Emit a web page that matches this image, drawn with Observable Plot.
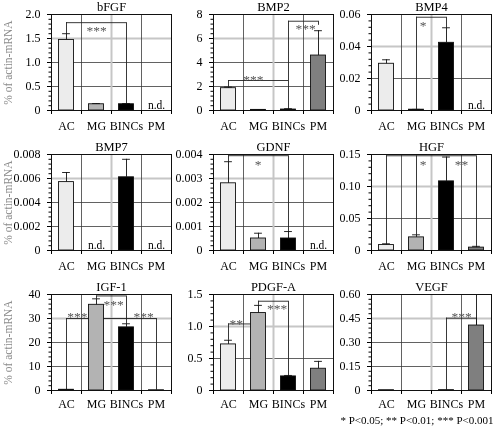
<!DOCTYPE html>
<html>
<head>
<meta charset="utf-8">
<script src="https://cdn.jsdelivr.net/npm/d3@7"></script>
<script src="https://cdn.jsdelivr.net/npm/@observablehq/plot@0.6"></script>
<style>
  html, body { margin: 0; padding: 0; background: #fff; }
  #chart { position: relative; width: 493px; height: 426px; overflow: hidden; background: #fff; }
  #chart > div { position: absolute; }
  #chart svg { filter: grayscale(1); }
  #chart svg, #chart svg text { font-family: "Liberation Serif", "DejaVu Serif", serif !important; }
</style>
</head>
<body>
<div id="chart"></div>
<script>
const categories = ["AC", "MG", "BINCs", "PM"];
const genes = ["bFGF", "BMP2", "BMP4", "BMP7", "GDNF", "HGF", "IGF-1", "PDGF-A", "VEGF"];
const barFills = ["#ececec", "#b3b3b3", "#000000", "#7f7f7f"];

// mean expression (% of actin-mRNA); null = n.d.
const means = [
  [1.47, 0.13, 0.13, null],
  [1.86, 0.05, 0.08, 4.58],
  [0.0292, 0.0005, 0.0423, null],
  [0.0057, null, 0.0061, null],
  [0.0028, 0.0005, 0.0005, null],
  [0.0085, 0.0205, 0.108, 0.0045],
  [0.3, 35.7, 26.3, 0.1],
  [0.72, 1.21, 0.22, 0.34],
  [0.002, 0, 0.002, 0.406]
];
// top of the error bar (mean + SD)
const errorTops = [
  [1.60, 0.145, 0.145, null],
  [1.95, 0.07, 0.15, 6.65],
  [0.0317, 0.0007, 0.0517, null],
  [0.0065, null, 0.0076, null],
  [0.0037, 0.00072, 0.00079, null],
  [0.0105, 0.0245, 0.146, 0.0065],
  [null, 38.2, 27.8, null],
  [0.785, 1.33, 0.235, 0.455],
  [null, null, null, 0.60]
];
const yTicks = [
  [0, 0.5, 1, 1.5, 2],
  [0, 2, 4, 6, 8],
  [0, 0.02, 0.04, 0.06],
  [0, 0.002, 0.004, 0.006, 0.008],
  [0, 0.001, 0.002, 0.003, 0.004],
  [0, 0.05, 0.10, 0.15],
  [0, 10, 20, 30, 40],
  [0, 0.5, 1, 1.5],
  [0, 0.15, 0.30, 0.45, 0.60]
];
const yTickLabels = [
  ["0", "0.5", "1.0", "1.5", "2.0"],
  ["0", "2", "4", "6", "8"],
  ["0", "0.02", "0.04", "0.06"],
  ["0", "0.002", "0.004", "0.006", "0.008"],
  ["0", "0.001", "0.002", "0.003", "0.004"],
  ["0", "0.05", "0.10", "0.15"],
  ["0", "10", "20", "30", "40"],
  ["0", "0.5", "1.0", "1.5"],
  ["0", "0.15", "0.30", "0.45", "0.60"]
];
// significance brackets: category index from/to, level, legs [category, bottom]
const brackets = [
  {panel: 0, from: 0, to: 2, y: 1.83, legs: [[0, 1.60], [2, 0.145]]},
  {panel: 1, from: 0, to: 2, y: 2.5, legs: [[0, 1.95], [2, 0.15]]},
  {panel: 1, from: 2, to: 3, y: 7.44, legs: [[2, 2.5], [3, 7.1]]},
  {panel: 2, from: 1, to: 2, y: 0.0583, legs: [[1, 0.0007], [2, 0.0517]]},
  {panel: 4, from: 0, to: 2, y: 0.00395, legs: [[0, 0.0037], [2, 0.00079]]},
  {panel: 5, from: 0, to: 3, y: 0.148, legs: [[0, 0.0105], [1, 0.0245], [3, 0.0065]]},
  {panel: 6, from: 1, to: 2, y: 39.4, legs: [[1, 38.2], [2, 27.8]]},
  {panel: 6, from: 0, to: 3, y: 30, legs: [[0, 0.3], [3, 0.1]]},
  {panel: 7, from: 0, to: 1, y: 1.04, legs: [[0, 0.785]]},
  {panel: 7, from: 1, to: 2, y: 1.395, legs: [[1, 1.33], [2, 0.235]]},
  {panel: 8, from: 2, to: 3, y: 0.452, legs: [[2, 0.002], [3, 0.406]]}
];
const stars = [
  {panel: 0, text: "***", at: 1.0, y: 1.73},
  {panel: 1, text: "***", at: 0.83, y: 2.86},
  {panel: 1, text: "***", at: 2.57, y: 7.08},
  {panel: 2, text: "*", at: 1.22, y: 0.0552},
  {panel: 4, text: "*", at: 0.99, y: 0.00372},
  {panel: 5, text: "*", at: 1.22, y: 0.1395},
  {panel: 5, text: "**", at: 2.5, y: 0.1395},
  {panel: 6, text: "***", at: 1.57, y: 37.2},
  {panel: 6, text: "***", at: 0.36, y: 32.1},
  {panel: 6, text: "***", at: 2.57, y: 32.1},
  {panel: 7, text: "**", at: 0.26, y: 1.09},
  {panel: 7, text: "***", at: 1.62, y: 1.33},
  {panel: 8, text: "***", at: 2.5, y: 0.48}
];
const yAxisTitle = "% of actin-mRNA";
const legendText = "* P<0.05; ** P<0.01; *** P<0.001";

const FONT = "'Liberation Serif', 'DejaVu Serif', serif";
const colPlotX = [51, 213, 371];
const rowPlotY = [14, 154, 294];
const plotW = 120, plotH = 96;

function makePanel(p) {
  const row = Math.floor(p / 3), col = p % 3;
  const ml = col === 0 ? 51 : 45, mr = 2, mt = 14, mb = row === 2 ? 36 : 26;
  const ticks = yTicks[p], labels = yTickLabels[p];
  const yMax = ticks[ticks.length - 1];
  const bars = categories.map((c, k) => ({k, c, mean: means[p][k], top: errorTops[p][k], fill: barFills[k]}));
  const shown = bars.filter(d => d.mean != null);
  const nd = bars.filter(d => d.mean == null);
  const errs = shown.filter(d => d.top != null);
  const interior = ticks.slice(1, -1);
  const gridDark = interior.slice(0, -1);
  const gridLight = interior.slice(-1);
  const minor = [];
  for (let j = 0; j < ticks.length - 1; j++)
    for (let s = 1; s < 5; s++) minor.push(ticks[j] + (ticks[j + 1] - ticks[j]) * s / 5);
  const br = brackets.filter(b => b.panel === p);
  const hLines = br.map(b => ({x1: b.from, x2: b.to, y: b.y}));
  const legs = br.flatMap(b => b.legs.map(([k, bot]) => ({x: k, y1: bot, y2: b.y})));
  const st = stars.filter(s => s.panel === p);

  const marks = [
    Plot.ruleY(gridLight, {stroke: "#c6c6c6", strokeWidth: 2}),
    Plot.ruleY(gridDark, {stroke: "#3a3a3a", strokeWidth: 0.8}),
    Plot.ruleX([1.5], {stroke: "#c6c6c6", strokeWidth: 2}),
    Plot.ruleX([0.5, 2.5], {stroke: "#3a3a3a", strokeWidth: 0.8}),
    Plot.ruleY(hLines, {y: "y", x1: "x1", x2: "x2", stroke: "#222", strokeWidth: 0.9}),
    Plot.ruleX(legs, {x: "x", y1: "y1", y2: "y2", stroke: "#222", strokeWidth: 0.9}),
    Plot.rect(shown, {x1: d => d.k - 0.25, x2: d => d.k + 0.25, y1: 0, y2: "mean", fill: "fill", stroke: "#111", strokeWidth: 0.9}),
    Plot.ruleX(errs, {x: "k", y1: "mean", y2: "top", stroke: "#111", strokeWidth: 0.9}),
    Plot.ruleY(errs, {y: "top", x1: d => d.k - 0.13, x2: d => d.k + 0.13, stroke: "#111", strokeWidth: 0.9}),
    Plot.text(nd, {x: "k", y: 0, text: () => "n.d.", dy: -5, fontSize: 11.5}),
    Plot.text(st, {x: "at", y: "y", text: "text", fontSize: 13.5, dy: 3, fill: "#555", letterSpacing: 0.5}),
    Plot.frame({stroke: "#111", strokeWidth: 1}),
    Plot.axisY({ticks, tickFormat: d => labels[ticks.indexOf(d)], tickSize: 4, tickPadding: 7, fontSize: 12, label: null}),
    Plot.axisY({ticks: minor, tickFormat: () => "", tickSize: 2.5, label: null}),
    Plot.axisX({ticks: [0, 1, 2, 3], tickFormat: k => categories[k], tickSize: 0, tickPadding: row === 2 ? 9 : 11, fontSize: 12, label: null}),
    Plot.axisX({ticks: [-0.5, 0.5, 1.5, 2.5, 3.5], tickFormat: () => "", tickSize: 4, label: null}),
    Plot.text([genes[p]], {frameAnchor: "top", lineAnchor: "middle", dy: -8, fontSize: 12.5})
  ];
  if (col === 0) {
    marks.push(Plot.text([yAxisTitle], {frameAnchor: "left", textAnchor: "middle", lineAnchor: "middle", dx: -43, rotate: -90, fontSize: 11.5, fill: "#8a8a8a"}));
  }
  if (p === 8) {
    marks.push(Plot.text([legendText], {frameAnchor: "bottom-right", lineAnchor: "middle", textAnchor: "end", dx: 2, dy: 29.5, fontSize: 11}));
  }

  const svg = Plot.plot({
    width: ml + plotW + mr,
    height: mt + plotH + mb,
    marginLeft: ml, marginRight: mr, marginTop: mt, marginBottom: mb,
    x: {type: "linear", domain: [-0.5, 3.5]},
    y: {type: "linear", domain: [0, yMax]},
    color: {type: "identity"},
    style: {fontFamily: FONT, fontSize: "11px", color: "#000", background: "transparent", overflow: "visible"},
    marks
  });
  const wrap = document.createElement("div");
  wrap.style.left = (colPlotX[col] - ml) + "px";
  wrap.style.top = (rowPlotY[row] - mt) + "px";
  wrap.appendChild(svg);
  return wrap;
}

const chart = document.getElementById("chart");
genes.forEach((g, p) => chart.appendChild(makePanel(p)));
</script>
</body>
</html>
